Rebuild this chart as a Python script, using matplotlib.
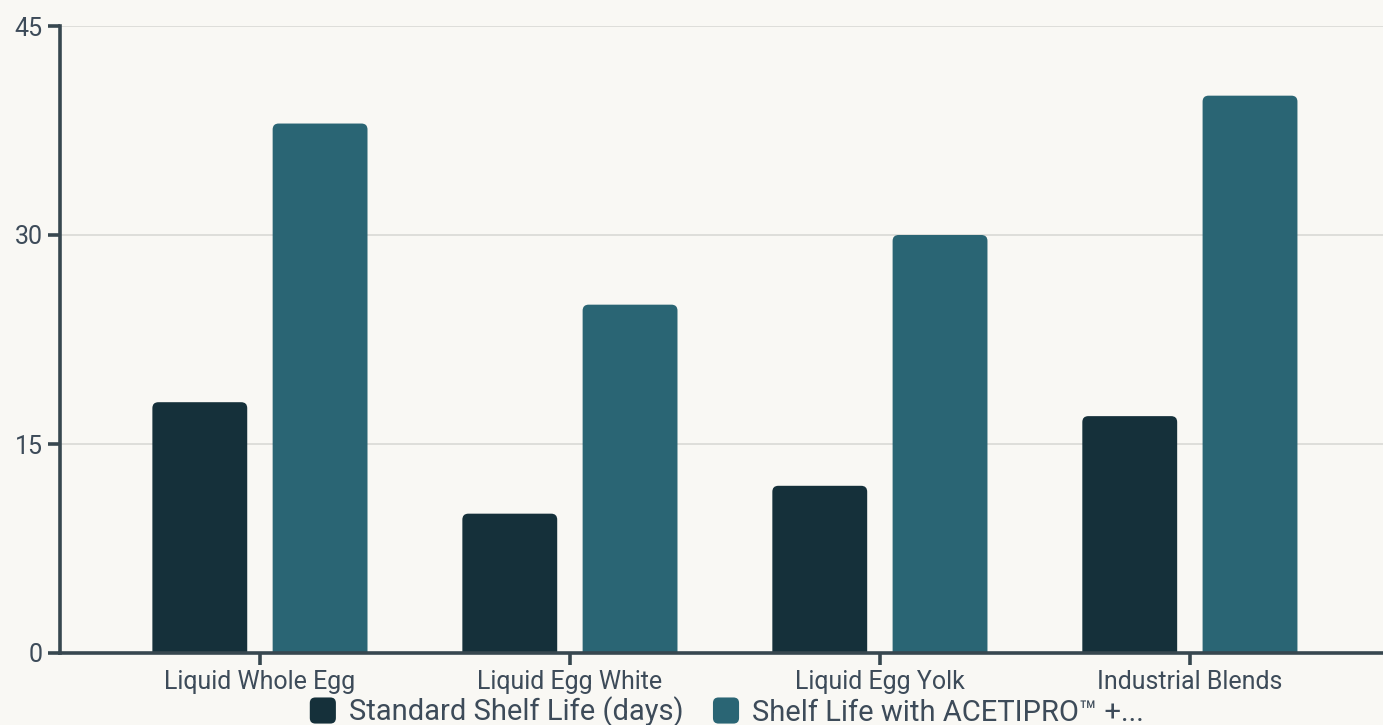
import matplotlib

matplotlib.use("Agg")
import matplotlib.pyplot as plt
import matplotlib.patches as mpatches
from matplotlib.legend_handler import HandlerPatch
from matplotlib.path import Path
import numpy as np

plt.rcParams["font.family"] = ["Roboto", "DejaVu Sans"]

CATEGORIES = ["Liquid Whole Egg", "Liquid Egg White", "Liquid Egg Yolk", "Industrial Blends"]
STANDARD = [18, 10, 12, 17]
ACETIPRO = [38, 25, 30, 40]
SERIES_LABELS = ["Standard Shelf Life (days)", "Shelf Life with ACETIPRO\u2122 +..."]
Y_TICKS = [0, 15, 30, 45]

BG = "#f9f8f4"
DARK = "#15303a"
TEAL = "#2a6574"
AXIS = "#37474f"
TEXT = "#3d4b59"
GRID = "#dcdcd8"

W, H = 1383, 725
BAR_W = 0.306
OFFSET = 0.194
RADIUS_PX = 6


def rounded_top(x0, x1, y1, rx, ry):
    """Bar outline from baseline 0 with rounded top corners (data coords)."""
    verts = [(x0, 0), (x0, y1 - ry), (x0, y1), (x0 + rx, y1),
             (x1 - rx, y1), (x1, y1), (x1, y1 - ry), (x1, 0), (x0, 0)]
    codes = [Path.MOVETO, Path.LINETO, Path.CURVE3, Path.CURVE3,
             Path.LINETO, Path.CURVE3, Path.CURVE3, Path.LINETO, Path.CLOSEPOLY]
    return Path(verts, codes)


def _round_handle(legend, orig_handle, xdescent, ydescent, width, height, fontsize):
    # square swatch with small rounded corners
    side = min(width, height)
    return mpatches.FancyBboxPatch((-xdescent, -ydescent + (height - side) / 2), side, side,
                                   boxstyle="round,pad=0,rounding_size=4")


fig = plt.figure(figsize=(W / 100, H / 100), dpi=100, facecolor=BG)
ax = fig.add_axes([60 / W, 72 / H, 1 - 60 / W, (653 - 26) / H])
ax.set_facecolor(BG)

x = np.arange(len(CATEGORIES))
ax.set_xlim(-0.645, 3.623)
ax.set_ylim(0, 45)

# px per data unit, for the corner radius
px_x = (1 - 60 / W) * W / (3.623 + 0.645)
px_y = (653 - 26) / 45
rx, ry = RADIUS_PX / px_x, RADIUS_PX / px_y

for vals, off, color in [(STANDARD, -OFFSET, DARK), (ACETIPRO, OFFSET, TEAL)]:
    bars = ax.bar(x + off, vals, width=BAR_W, color=color, zorder=3)
    for b in bars:
        b.set_visible(False)
        bx0 = b.get_x()
        bx1 = bx0 + b.get_width()
        ax.add_patch(mpatches.PathPatch(rounded_top(bx0, bx1, b.get_height(), rx, ry),
                                        facecolor=color, edgecolor="none", zorder=3))

ax.set_yticks(Y_TICKS)
ax.set_xticks(x)
ax.set_xticklabels(CATEGORIES)
ax.yaxis.grid(True, color=GRID, linewidth=1.3, zorder=0)
ax.set_axisbelow(True)

for side in ["top", "right"]:
    ax.spines[side].set_visible(False)
for side in ["left", "bottom"]:
    ax.spines[side].set_color(AXIS)
    ax.spines[side].set_linewidth(2.6)
    ax.spines[side].set_zorder(4)

ax.tick_params(axis="both", colors=AXIS, width=2.6, length=8.5,
               labelcolor=TEXT, labelsize=18)
ax.tick_params(axis="x", pad=4)
ax.tick_params(axis="y", pad=4)

handles = [mpatches.Patch(facecolor=c, edgecolor="none") for c in (DARK, TEAL)]
leg = fig.legend(handles, SERIES_LABELS, loc="center", bbox_to_anchor=(727 / W, 1 - 712 / H),
                 ncol=2, frameon=False, fontsize=21, labelcolor=TEXT,
                 handlelength=1.0, handleheight=1.0, handletextpad=0.35,
                 columnspacing=1.0, borderpad=0,
                 handler_map={mpatches.Patch: HandlerPatch(patch_func=_round_handle)})

fig.savefig("out.png", dpi=100, facecolor=BG)
